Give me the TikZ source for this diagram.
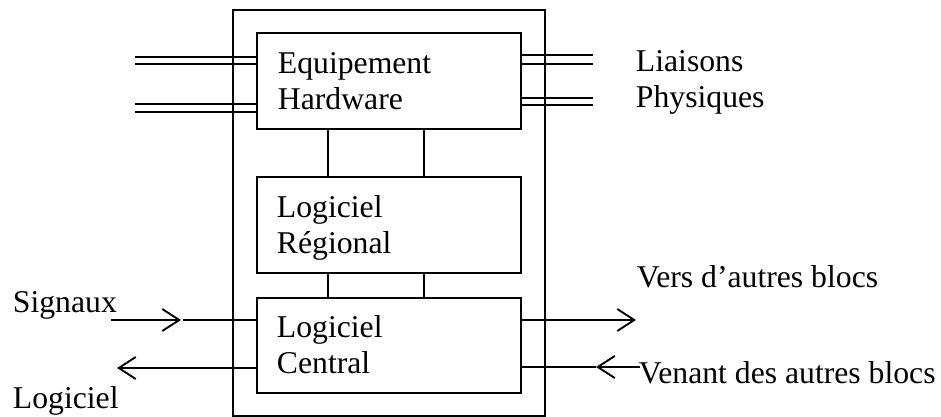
\documentclass[tikz,border=0pt]{standalone}
\usepackage{fontspec}
\setmainfont{Liberation Serif}
\usetikzlibrary{arrows.meta}
\begin{document}
\begin{tikzpicture}[x=1pt,y=-1pt,line width=1.9pt,
  box/.style={draw, rectangle, inner sep=0pt, anchor=north west},
  lbl/.style={anchor=base west, inner sep=0pt, font=\fontsize{31.7}{36}\selectfont},
  barb/.style={-{Straight Barb[length=17pt,width=22pt,line width=1.9pt]}}]
\useasboundingbox (0,0) rectangle (941,417);
% boxes
\node[box, minimum width=312pt, minimum height=406pt] (outer) at (232,9) {};
\node[box, minimum width=264pt, minimum height=96pt] (hw) at (256,32) {};
\node[box, minimum width=264pt, minimum height=96pt] (reg) at (256,176) {};
\node[box, minimum width=264pt, minimum height=95pt] (cen) at (256,297) {};
% texts
\node[lbl] (t1) at (277,74) {Equipement};
\node[lbl] (t2) at (277,110) {Hardware};
\node[lbl] (t3) at (276,217) {Logiciel};
\node[lbl] (t4) at (276,253) {Régional};
\node[lbl] (t5) at (276,337) {Logiciel};
\node[lbl] (t6) at (276,373) {Central};
\node[lbl] (t7) at (635,72) {Liaisons};
\node[lbl] (t8) at (635,108) {Physiques};
\node[lbl] (t9) at (12,312) {Signaux};
\node[lbl] (t10) at (12,408) {Logiciel};
\node[lbl] (t11) at (636,287) {Vers d’autres blocs};
\node[lbl] (t12) at (638,383) {Venant des autres blocs};
% vertical links
\coordinate (v1) at (328,0);
\coordinate (v2) at (424,0);
\draw (hw.south -| v1) -- (reg.north -| v1);
\draw (hw.south -| v2) -- (reg.north -| v2);
\draw (reg.south -| v1) -- (cen.north -| v1);
\draw (reg.south -| v2) -- (cen.north -| v2);
% physical links left
\coordinate (la) at (135,57);
\coordinate (lb) at (135,64);
\coordinate (lc) at (135,104);
\coordinate (ld) at (135,112);
\foreach \p in {la,lb,lc,ld} \draw (\p) -- (\p -| hw.west);
% physical links right
\coordinate (ra) at (593,55);
\coordinate (rb) at (593,64);
\coordinate (rc) at (593,98);
\coordinate (rd) at (593,105);
\foreach \p in {ra,rb,rc,rd} \draw (\p -| hw.east) -- (\p);
% signals
\coordinate (sigS) at (111,320);
\coordinate (sigM) at (181,320);
\draw[barb] (sigS) -- (sigM);
\draw ([xshift=2pt]sigM) -- (sigM -| cen.west);
\coordinate (logE) at (117,368);
\draw[barb] (logE -| cen.west) -- (logE);
\coordinate (vers) at (636,320);
\draw[barb] (vers -| cen.east) -- (vers);
\coordinate (venS) at (640,367);
\coordinate (venM) at (596,367);
\draw[barb] (venS) -- (venM);
\draw (venM) -- (venM -| cen.east);
\end{tikzpicture}
\end{document}
